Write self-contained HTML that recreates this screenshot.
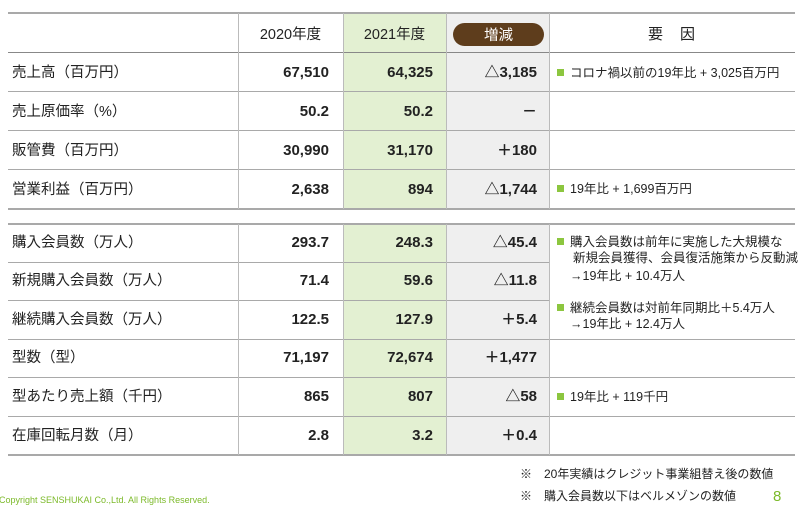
<!DOCTYPE html>
<html><head><meta charset="utf-8"><style>
*{margin:0;padding:0;box-sizing:border-box}
body{width:800px;height:508px;background:#fff;position:relative;overflow:hidden;font-family:"Liberation Sans","Noto Sans CJK JP",sans-serif;color:#222}
.a{position:absolute}
.hl{position:absolute;left:8px;width:787px;height:2px;background:#a9a9a9}
.vl{position:absolute;width:1px;background:#bbb}
.lab{position:absolute;left:12px;font-size:14.5px;line-height:20px}
.num{position:absolute;font-size:15px;font-weight:bold;line-height:20px;text-align:right;width:100px}
.f{position:absolute;font-size:12.5px;line-height:16px;left:557px}
.sq{display:inline-block;width:7px;height:7px;background:#8cc63f;margin-right:6px;vertical-align:1px}
</style></head><body>
<div class="a" style="left:343px;top:13px;width:103px;height:196px;background:#e3f0d2"></div>
<div class="a" style="left:343px;top:224px;width:103px;height:231px;background:#e3f0d2"></div>
<div class="a" style="left:446px;top:13px;width:103px;height:196px;background:#efefef"></div>
<div class="a" style="left:446px;top:224px;width:103px;height:231px;background:#efefef"></div>
<div class="hl" style="top:12px"></div>
<div class="hl" style="top:52px;height:1px;background:#888"></div>
<div class="hl" style="top:91px;height:1px"></div>
<div class="hl" style="top:130px;height:1px"></div>
<div class="hl" style="top:169px;height:1px"></div>
<div class="hl" style="top:208px"></div>
<div class="hl" style="top:223px"></div>
<div class="hl" style="top:262px;height:1px;right:250px;width:auto"></div>
<div class="hl" style="top:300px;height:1px;right:250px;width:auto"></div>
<div class="hl" style="top:339px;height:1px"></div>
<div class="hl" style="top:377px;height:1px"></div>
<div class="hl" style="top:416px;height:1px"></div>
<div class="hl" style="top:454px"></div>
<div class="vl" style="left:238px;top:13px;height:196px"></div>
<div class="vl" style="left:238px;top:224px;height:231px"></div>
<div class="vl" style="left:343px;top:13px;height:196px"></div>
<div class="vl" style="left:343px;top:224px;height:231px"></div>
<div class="vl" style="left:446px;top:13px;height:196px"></div>
<div class="vl" style="left:446px;top:224px;height:231px"></div>
<div class="vl" style="left:549px;top:13px;height:196px"></div>
<div class="vl" style="left:549px;top:224px;height:231px"></div>

<div class="a" style="left:238px;width:105px;top:23px;text-align:center;font-size:14.5px">2020年度</div>
<div class="a" style="left:343px;width:103px;top:23px;text-align:center;font-size:14.5px">2021年度</div>
<div class="a" style="left:453px;top:23px;width:91px;height:23px;border-radius:12px;background:#5e3d1c;color:#fff;text-align:center;font-size:14.5px;line-height:24px"><span style="position:relative;top:1px">増減</span></div>
<div class="a" style="left:549px;width:246px;top:23px;text-align:center;font-size:15px;letter-spacing:1px">要　因</div>

<div class="lab" style="top:63px">売上高（百万円）</div>
<div class="lab" style="top:102px">売上原価率（%）</div>
<div class="lab" style="top:141px">販管費（百万円）</div>
<div class="lab" style="top:180px">営業利益（百万円）</div>
<div class="lab" style="top:233px">購入会員数（万人）</div>
<div class="lab" style="top:271px">新規購入会員数（万人）</div>
<div class="lab" style="top:310px">継続購入会員数（万人）</div>
<div class="lab" style="top:348px">型数（型）</div>
<div class="lab" style="top:387px">型あたり売上額（千円）</div>
<div class="lab" style="top:426px">在庫回転月数（月）</div>

<div class="num" style="left:229px;top:63px">67,510</div><div class="num" style="left:333px;top:63px">64,325</div><div class="num" style="left:437px;top:63px">△3,185</div>
<div class="num" style="left:229px;top:102px">50.2</div><div class="num" style="left:333px;top:102px">50.2</div><div class="num" style="left:437px;top:102px">－</div>
<div class="num" style="left:229px;top:141px">30,990</div><div class="num" style="left:333px;top:141px">31,170</div><div class="num" style="left:437px;top:141px">＋180</div>
<div class="num" style="left:229px;top:180px">2,638</div><div class="num" style="left:333px;top:180px">894</div><div class="num" style="left:437px;top:180px">△1,744</div>
<div class="num" style="left:229px;top:233px">293.7</div><div class="num" style="left:333px;top:233px">248.3</div><div class="num" style="left:437px;top:233px">△45.4</div>
<div class="num" style="left:229px;top:271px">71.4</div><div class="num" style="left:333px;top:271px">59.6</div><div class="num" style="left:437px;top:271px">△11.8</div>
<div class="num" style="left:229px;top:310px">122.5</div><div class="num" style="left:333px;top:310px">127.9</div><div class="num" style="left:437px;top:310px">＋5.4</div>
<div class="num" style="left:229px;top:348px">71,197</div><div class="num" style="left:333px;top:348px">72,674</div><div class="num" style="left:437px;top:348px">＋1,477</div>
<div class="num" style="left:229px;top:387px">865</div><div class="num" style="left:333px;top:387px">807</div><div class="num" style="left:437px;top:387px">△58</div>
<div class="num" style="left:229px;top:426px">2.8</div><div class="num" style="left:333px;top:426px">3.2</div><div class="num" style="left:437px;top:426px">＋0.4</div>

<div class="f" style="top:65px"><span class="sq"></span>コロナ禍以前の19年比 + 3,025百万円</div>
<div class="f" style="top:181px"><span class="sq"></span>19年比 + 1,699百万円</div>
<div class="f" style="top:234px"><span class="sq"></span>購入会員数は前年に実施した大規模な<br>　 新規会員獲得、会員復活施策から反動減</div>
<div class="f" style="top:268px;left:570px">→19年比 + 10.4万人</div>
<div class="f" style="top:300px"><span class="sq"></span>継続会員数は対前年同期比＋5.4万人</div>
<div class="f" style="top:316px;left:570px">→19年比 + 12.4万人</div>
<div class="f" style="top:389px"><span class="sq"></span>19年比 + 119千円</div>

<div class="a" style="left:520px;top:465px;font-size:12px">※　20年実績はクレジット事業組替え後の数値</div>
<div class="a" style="left:520px;top:487px;font-size:12px">※　購入会員数以下はベルメゾンの数値</div>
<div class="a" style="left:-1px;top:495px;font-size:9px;color:#7cba2a">Copyright SENSHUKAI Co.,Ltd. All Rights Reserved.</div>
<div class="a" style="left:773px;top:488px;font-size:15px;color:#7cba2a">8</div>
</body></html>
